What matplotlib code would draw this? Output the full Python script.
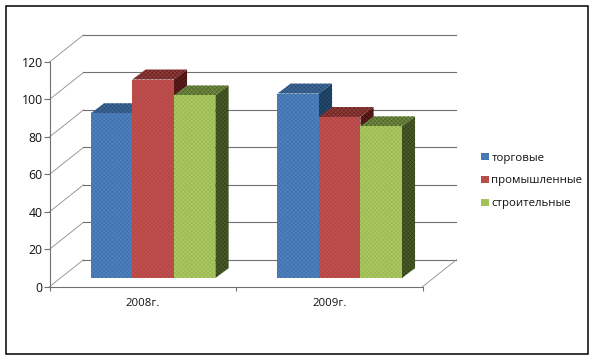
import matplotlib
matplotlib.use('Agg')
import matplotlib.pyplot as plt
from matplotlib.patches import Polygon, Rectangle

plt.rcParams['font.family'] = ['Open Sans', 'DejaVu Sans']
plt.rcParams['hatch.linewidth'] = 0.35

# data
years = ['2008г.', '2009г.']
series_names = ['торговые', 'промышленные', 'строительные']
torgovye = [88, 98.5]
prom = [106, 86]
stroit = [97.5, 81]
y_ticks = [0, 20, 40, 60, 80, 100, 120]

colors = ['#4f81bd', '#c0504d', '#9bbb59']
dither = ['#3a6cab', '#b04343', '#b5cf5e']
tops = ['#3f6797', '#8f3b39', '#6f8a40']
sides = ['#234a70', '#5e1d1c', '#4a5c28']
side_dither = ['#17324d', '#3a1010', '#2f3b18']

W, H = 594, 360
fig = plt.figure(figsize=(W / 100, H / 100), dpi=100)

# full figure frame
fig.add_artist(Rectangle((5.5 / W, 1 - 354 / H), 582 / W, 348.5 / H, fill=False,
                         ec='black', lw=1.1, transform=fig.transFigure))

# front plane of the fake 3d box
ax = fig.add_axes([49.5 / W, 1 - 286.7 / H, 373 / W, 224.7 / H])
ax.set_xlim(0, 2)
ax.set_ylim(0, 120)
ax.patch.set_visible(False)
for s in ['top', 'right']:
    ax.spines[s].set_visible(False)
for s in ['left', 'bottom']:
    ax.spines[s].set_color('#707070')
    ax.spines[s].set_linewidth(0.8)

# depth of box and bars in data units
box_dx, box_dy = 0.1823, 14.4
base_dy = 4.65
bar_dx, bar_dy = 0.07, 5.3
bar_w = 0.2225
first = 0.2225

grid = dict(color='#707070', lw=0.8, clip_on=False, zorder=1)
for v in y_ticks:
    ax.plot([0, box_dx], [v, v + box_dy], **{**grid, 'color': '#8c8c8c', 'lw': 0.6})
    ax.plot([box_dx, 2 + box_dx], [v + box_dy, v + box_dy], **grid)
ax.plot([2, 2 + box_dx], [0, box_dy], **{**grid, 'color': '#8c8c8c', 'lw': 0.6})

all_vals = [torgovye, prom, stroit]
for g in range(len(years)):
    for i, vals in enumerate(all_vals):
        x0 = g + first + i * bar_w
        x1 = x0 + bar_w
        v = vals[g]
        # right side, top, front
        ax.add_patch(Polygon([(x1, base_dy), (x1 + bar_dx, base_dy + bar_dy),
                              (x1 + bar_dx, v + base_dy + bar_dy), (x1, v + base_dy)],
                             fc=sides[i], ec=side_dither[i], lw=0, hatch='xxxxxxxx',
                             clip_on=False, zorder=3))
        ax.add_patch(Polygon([(x0, v + base_dy), (x0 + bar_dx, v + base_dy + bar_dy),
                              (x1 + bar_dx, v + base_dy + bar_dy), (x1, v + base_dy)],
                             fc=tops[i], ec=sides[i], lw=0, hatch='xxxxxxxx',
                             clip_on=False, zorder=3))
        ax.add_patch(Rectangle((x0, base_dy), bar_w, v, fc=colors[i], ec=dither[i], lw=0,
                               hatch='xxxxxxxx', clip_on=False, zorder=3))

ax.set_yticks(y_ticks)
ax.set_xticks([0, 1, 2])
ax.set_xticklabels([])
ax.set_xticks([0.5, 1.5], years, minor=True)
ax.tick_params(axis='x', which='minor', length=0, labelsize=8.2, pad=8, labelcolor='#111111')
ax.tick_params(axis='x', which='major', length=3, width=0.8, color='#707070')
ax.tick_params(axis='y', length=4, width=0.8, color='#707070', labelsize=8.8, pad=0.8, labelcolor='#111111')

handles = [Rectangle((0, 0), 1, 1, fc=c, ec=d, lw=0, hatch='xxxxxxxx') for c, d in zip(colors, dither)]
fig.legend(handles, series_names, loc='center left', bbox_to_anchor=(473.5 / W, 1 - 181 / H),
           frameon=False, fontsize=8.2, handlelength=0.62, handleheight=0.62, handletextpad=0.26,
           labelspacing=1.05, labelcolor='#111111', borderpad=0.2)

fig.savefig('out.png', dpi=100)
